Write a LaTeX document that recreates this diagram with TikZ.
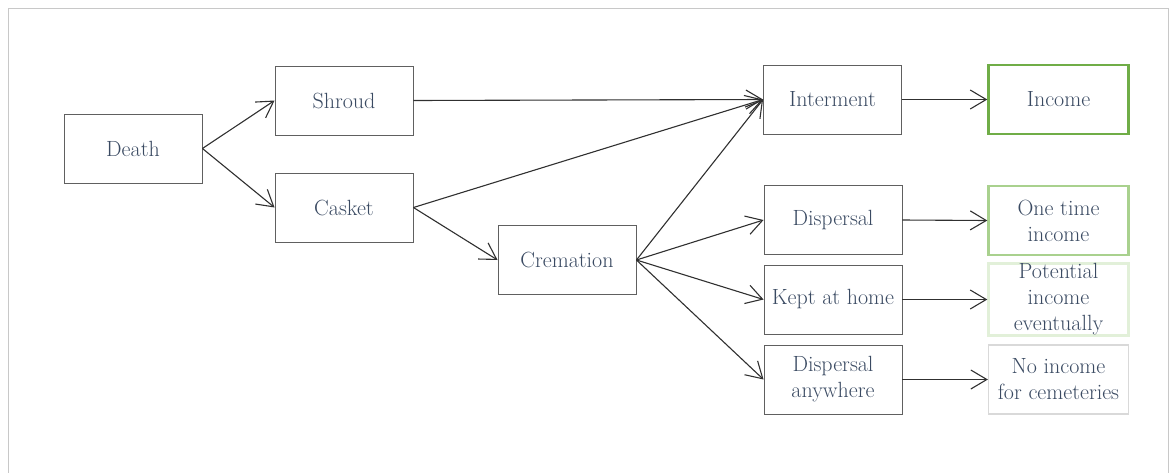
\documentclass[tikz,border=0pt]{standalone}
\usetikzlibrary{arrows.meta}
\definecolor{txt}{HTML}{3A4A62}
\definecolor{boxline}{HTML}{606060}
\definecolor{arr}{HTML}{303030}
\definecolor{frame}{HTML}{C8C8C8}
\definecolor{gA}{HTML}{70AD47}
\definecolor{gB}{HTML}{A9D18E}
\definecolor{gC}{HTML}{E2F0D9}
\definecolor{gD}{HTML}{D9D9D9}
\tikzset{
  flowbox/.style={draw=boxline, line width=0.9pt, minimum width=138pt, minimum height=69pt,
    inner sep=0pt, align=center, text=txt, font=\fontsize{22}{26}\selectfont},
  outbox/.style={flowbox, minimum width=140pt},
  link/.style={draw=arr, line width=1.1pt, -{Straight Barb[length=16pt,width=19pt,line width=1.1pt]}}
}
\begin{document}
\begin{tikzpicture}[x=1pt,y=-1pt]
\useasboundingbox (0,0) rectangle (1170,472);
\draw[frame, line width=1pt] (8,480) -- (8,8) -- (1168,8) -- (1168,480);

\node[flowbox] (death) at (133,148.5) {Death};
\node[flowbox] (shroud) at (344,100.5) {Shroud};
\node[flowbox] (casket) at (344,207.5) {Casket};
\node[flowbox] (crem) at (567,260) {Cremation};
\node[flowbox] (inter) at (832.5,99.5) {Interment};
\node[flowbox] (disp) at (833,220) {Dispersal};
\node[flowbox] (kept) at (833,299.5) {Kept at home};
\node[flowbox] (dany) at (833,379.5) {Dispersal\\anywhere};

\node[outbox, draw=gA, line width=2.4pt] (inc) at (1058.5,99.5) {Income};
\node[outbox, draw=gB, line width=2.4pt] (once) at (1058.5,220.5) {One time\\income};
\node[outbox, draw=gC, line width=2.4pt] (pot) at (1058.5,299.5) {Potential\\income\\eventually};
\node[outbox, draw=gD, line width=1.2pt] (none) at (1058.5,379.5) {No income\\for cemeteries};

\draw[link] (death.east) -- (shroud.west);
\draw[link] (death.east) -- (casket.west);
\draw[link] (shroud.east) -- (inter.west);
\draw[link] (casket.east) -- (inter.west);
\draw[link] (casket.east) -- (crem.west);
\draw[link] (crem.east) -- (inter.west);
\draw[link] (crem.east) -- (disp.west);
\draw[link] (crem.east) -- (kept.west);
\draw[link] (crem.east) -- (dany.west);
\draw[link] (inter.east) -- (inc.west);
\draw[link] (disp.east) -- (once.west);
\draw[link] (kept.east) -- (pot.west);
\draw[link] (dany.east) -- (none.west);
\end{tikzpicture}
\end{document}
